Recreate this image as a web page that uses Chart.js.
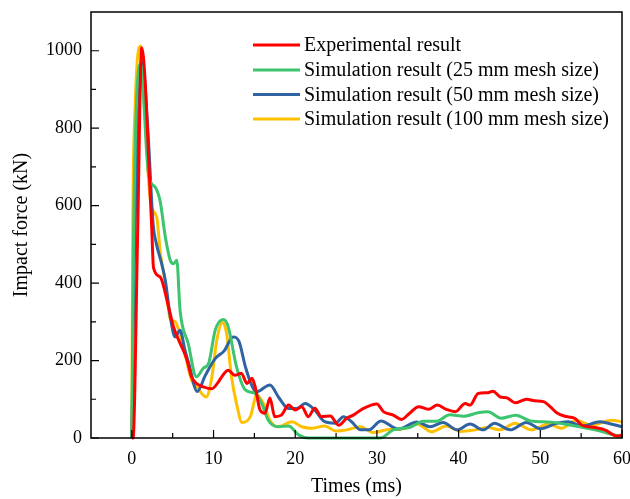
<!DOCTYPE html>
<html>
<head>
<meta charset="utf-8">
<script src="https://cdn.jsdelivr.net/npm/chart.js@4.4.1/dist/chart.umd.min.js"></script>
<style>
html,body{margin:0;padding:0;background:#fff;}
#wrap{width:630px;height:499px;position:relative;}
</style>
</head>
<body>
<div id="wrap"><canvas id="c" width="630" height="499"></canvas></div>
<script>
const seriesNames = ["Experimental result","Simulation result (25 mm mesh size)","Simulation result (50 mm mesh size)","Simulation result (100 mm mesh size)"];
const seriesColors = ["#ff0000","#3cc46e","#2f63a1","#ffc000"];

const expX = [0,0.15,0.7,1.2,2.4,2.65,3.45,4.5,5.1,5.9,6.7,7.3,7.9,8.75,9.8,10.6,11.0,11.8,12.6,13.4,14.1,14.7,15.1,15.7,16.3,16.9,17.5,18.3,19.2,20.0,20.8,21.6,22.4,23.2,24.3,25.3,26.3,27.1,28.3,30.0,30.8,32.0,33.0,34.0,35.1,36.3,37.4,38.5,39.6,40.8,41.4,42.4,43.6,44.2,45.1,45.9,46.9,48.3,49.3,50.4,51.2,52.0,53.0,54.2,55.1,56.7,57.9,59.4,60];
const expY = [0,0,519,1008,560,440,416,338,287,245,205,158,141,132,127,145,158,175,162,167,141,154,132,72,64,103,55,59,85,72,81,55,77,55,57,33,51,59,76,88,68,59,48,64,81,74,85,74,68,89,85,115,117,121,106,104,91,100,96,94,81,65,56,51,33,27,21,5,8];

const sim25X = [0,0.2,1.1,1.5,1.8,2.1,2.85,3.45,4.1,4.7,5.1,5.5,5.9,6.9,7.9,8.75,9.4,10.2,11.2,11.8,12.8,13.9,15.1,15.9,16.7,17.9,19.2,20.4,21.6,25,30.4,32.0,34.0,35.7,37.3,38.9,40.6,42.5,43.6,45.2,47.0,48.8,51.3,53.8,56.7,59.6,60];
const sim25Y = [0,500,966,854,742,673,648,613,519,459,450,459,330,244,158,180,193,278,306,287,185,124,115,89,46,29,31,8,0,0,0,21,27,43,43,60,56,66,68,51,59,44,41,33,21,5,4];

const sim50X = [0,0.3,1.3,2.0,2.6,3.0,3.65,4.1,4.7,5.3,5.9,6.5,7.0,8.0,9.0,10.2,11.3,12.4,13.1,13.9,14.6,15.2,16.9,18.0,19.2,20.2,21.2,22.4,23.6,24.9,25.9,26.9,28.0,29.0,30.5,32.6,34.9,36.5,38.1,39.8,41.4,43.0,44.4,46.3,48.3,50.0,52.0,53.4,55.1,57.3,58.3,60];
const sim50Y = [0,450,970,780,553,502,450,407,313,261,278,227,190,120,162,205,225,261,250,184,140,119,137,104,76,76,89,72,42,38,55,42,21,21,44,23,41,29,40,21,36,21,38,21,40,24,38,42,31,42,38,29];

const sim100X = [0,0.1,0.4,1.1,1.6,2.0,2.4,3.05,3.45,4.1,4.7,5.3,6.1,7.3,8.1,9.1,9.8,10.4,11.1,11.6,12.2,12.8,13.5,14.5,15.3,16.1,16.9,17.9,19.6,20.8,22.0,23.6,25.0,26.3,27.9,29.6,31.4,33.0,34.9,36.7,38.5,40.3,42.0,43.6,45.1,46.9,48.9,51.0,52.6,54.4,56.3,58.7,60];
const sim100Y = [0,500,854,1012,854,682,596,570,485,399,308,300,253,150,128,106,158,253,298,270,158,90,40,55,111,89,46,29,42,29,25,31,18,21,29,14,22,23,36,16,31,17,21,27,21,38,21,36,25,45,33,46,42];

const xTickValues = [0,10,20,30,40,50,60];
const xTickLabels = ["0","10","20","30","40","50","60"];
const yTickValues = [0,200,400,600,800,1000];
const yTickLabels = ["0","200","400","600","800","1000"];
const xMinorTicks = [5,15,25,35,45,55];
const yMinorTicks = [100,300,500,700,900];

const xs = [expX, sim25X, sim50X, sim100X];
const ys = [expY, sim25Y, sim50Y, sim100Y];
const datasets = seriesNames.map((name,i)=>({
  label: name,
  data: xs[i].map((x,k)=>({x:x,y:ys[i][k]})),
  borderColor: seriesColors[i],
  backgroundColor: seriesColors[i],
  borderWidth: 3,
  pointRadius: 0,
  cubicInterpolationMode: 'monotone',
  fill: false,
  clip: false
}));
const SERIF = "'Liberation Serif','Times New Roman',serif";

const framePlugin = {
  id: 'frame',
  afterDraw(chart){
    const {ctx, chartArea:a, scales} = chart;
    ctx.save();
    ctx.strokeStyle = '#000';
    ctx.lineWidth = 1.5;
    ctx.strokeRect(a.left, a.top, a.right-a.left, a.bottom-a.top);
    ctx.lineWidth = 1.2;
    ctx.beginPath();
    xTickValues.forEach(v=>{const p=scales.x.getPixelForValue(v); ctx.moveTo(p,a.bottom); ctx.lineTo(p,a.bottom-8);});
    xMinorTicks.forEach(v=>{const p=scales.x.getPixelForValue(v); ctx.moveTo(p,a.bottom); ctx.lineTo(p,a.bottom-5);});
    yTickValues.forEach(v=>{const p=scales.y.getPixelForValue(v); ctx.moveTo(a.left,p); ctx.lineTo(a.left+8,p);});
    yMinorTicks.forEach(v=>{const p=scales.y.getPixelForValue(v); ctx.moveTo(a.left,p); ctx.lineTo(a.left+5,p);});
    ctx.stroke();
    // legend
    const rows = [45,70,94.5,119];
    ctx.font = '20px ' + SERIF;
    ctx.textBaseline = 'middle';
    ctx.textAlign = 'left';
    chart.data.datasets.forEach((d,i)=>{
      ctx.strokeStyle = d.borderColor;
      ctx.lineWidth = 3;
      ctx.beginPath(); ctx.moveTo(253, rows[i]); ctx.lineTo(300, rows[i]); ctx.stroke();
      ctx.fillStyle = '#000';
      ctx.fillText(d.label, 304, rows[i]+1);
    });
    ctx.restore();
  }
};

new Chart(document.getElementById('c'), {
  type: 'line',
  data: { datasets: datasets },
  options: {
    responsive: false,
    animation: false,
    layout: { padding: { top: 12, right: 8, left: 0, bottom: 0 } },
    plugins: { legend: { display: false }, tooltip: { enabled: false } },
    scales: {
      x: {
        type: 'linear', min: -5, max: 60,
        grid: { display: false, drawTicks: false },
        border: { display: false },
        afterFit(s){ s.height = 61; s.paddingLeft = 0; s.paddingRight = 0; },
        afterBuildTicks(s){ s.ticks = xTickValues.map(v=>({value:v})); },
        ticks: { padding: 10, color: '#000', font: { family: SERIF, size: 18 },
          callback: (v)=>{ const i = xTickValues.indexOf(v); return i>=0 ? xTickLabels[i] : ''; } },
        title: { display: true, text: 'Times (ms)', color: '#000', font: { family: SERIF, size: 20 }, padding: { top: 0, bottom: 0 } }
      },
      y: {
        type: 'linear', min: 0, max: 1100,
        grid: { display: false, drawTicks: false },
        border: { display: false },
        afterFit(s){ s.width = 91; s.paddingTop = 0; s.paddingBottom = 0; },
        afterBuildTicks(s){ s.ticks = yTickValues.map(v=>({value:v})); },
        ticks: { padding: 9, color: '#000', font: { family: SERIF, size: 18 },
          callback: (v)=>{ const i = yTickValues.indexOf(v); return i>=0 ? yTickLabels[i] : ''; } },
        title: { display: true, text: 'Impact force (kN)', color: '#000', font: { family: SERIF, size: 20 }, padding: { top: 10, bottom: 0 } }
      }
    }
  },
  plugins: [framePlugin]
});
</script>
</body>
</html>
